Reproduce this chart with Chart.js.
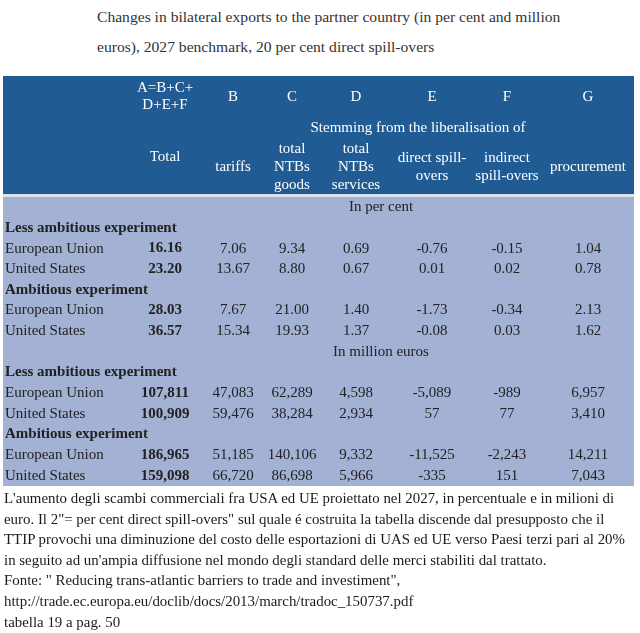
<!DOCTYPE html>
<html>
<head>
<meta charset="utf-8">
<script src="https://cdn.jsdelivr.net/npm/chart.js@4.4.1/dist/chart.umd.min.js"></script>
<style>
  body { margin: 0; background: #fff; width: 640px; height: 633px; overflow: hidden; position: relative; font-family: "Liberation Serif", "Times New Roman", serif; }
  #title { position: absolute; left: 97px; top: 2px; font-size: 15.6px; line-height: 30px; color: #333; white-space: nowrap; }
  #wrap { position: absolute; left: 0; top: 70px; width: 640px; height: 420px; }
  #notes { position: absolute; left: 4px; top: 488px; font-size: 14.9px; line-height: 20.6px; color: #1a1a1a; white-space: nowrap; }
</style>
</head>
<body>
<div id="title">Changes in bilateral exports to the partner country (in per cent and million<br>euros), 2027 benchmark, 20 per cent direct spill-overs</div>
<div id="wrap"><canvas id="table" width="640" height="420"></canvas></div>
<div id="notes">L'aumento degli scambi commerciali fra USA ed UE proiettato nel 2027, in percentuale e in milioni di<br>euro. Il 2"= per cent direct spill-overs" sul quale é costruita la tabella discende dal presupposto che il<br>TTIP provochi una diminuzione del costo delle esportazioni di UAS ed UE verso Paesi terzi pari al 20%<br>in seguito ad un'ampia diffusione nel mondo degli standard delle merci stabiliti dal trattato.<br>Fonte: " Reducing trans-atlantic barriers to trade and investiment",<br>http://trade.ec.europa.eu/doclib/docs/2013/march/tradoc_150737.pdf<br>tabella 19 a pag. 50</div>
<script>
// table content
const columnLetters = ["A=B+C+\nD+E+F", "B", "C", "D", "E", "F", "G"];
const columnNames = ["Total", "tariffs", "total\nNTBs\ngoods", "total\nNTBs\nservices", "direct spill-\novers", "indirect\nspill-overs", "procurement"];
const spanTitle = "Stemming from the liberalisation of";
const rowLabels = ["In per cent", "Less ambitious experiment", "European Union", "United States",
  "Ambitious experiment", "European Union", "United States",
  "In million euros", "Less ambitious experiment", "European Union", "United States",
  "Ambitious experiment", "European Union", "United States"];
const rowKinds = ["unit", "group", "pct", "pct", "group", "pct", "pct",
  "unit", "group", "mln", "mln", "group", "mln", "mln"];

const pctLessEU = [16.16, 7.06, 9.34, 0.69, -0.76, -0.15, 1.04];
const pctLessUS = [23.20, 13.67, 8.80, 0.67, 0.01, 0.02, 0.78];
const pctAmbEU = [28.03, 7.67, 21.00, 1.40, -1.73, -0.34, 2.13];
const pctAmbUS = [36.57, 15.34, 19.93, 1.37, -0.08, 0.03, 1.62];
const mlnLessEU = [107811, 47083, 62289, 4598, -5089, -989, 6957];
const mlnLessUS = [100909, 59476, 38284, 2934, 57, 77, 3410];
const mlnAmbEU = [186965, 51185, 140106, 9332, -11525, -2243, 14211];
const mlnAmbUS = [159098, 66720, 86698, 5966, -335, 151, 7043];

const rowValues = [null, null, pctLessEU, pctLessUS, null, pctAmbEU, pctAmbUS,
  null, null, mlnLessEU, mlnLessUS, null, mlnAmbEU, mlnAmbUS];

// layout (x in table units from the left edge)
const tableWidth = 631;
const colCenters = [162, 230, 289, 353, 429, 504, 585];
const unitCenter = 378;
const spanCenter = 415;
const headerColor = "#215b93";
const bodyColor = "#a3b1d4";
const font = '"Liberation Serif", "Times New Roman", serif';

const fmt = (kind, v) => kind === "pct" ? v.toFixed(2) : v.toLocaleString("en-US");

const drawLines = (ctx, text, x, yMid, lh) => {
  const lines = text.split("\n");
  lines.forEach((line, i) => {
    ctx.fillText(line, x, yMid + (i - (lines.length - 1) / 2) * lh);
  });
};

const tablePlugin = {
  id: "tableText",
  beforeDatasetsDraw(chart) {
    const { ctx, chartArea, scales } = chart;
    const top = chartArea.top;
    ctx.save();
    ctx.fillStyle = headerColor;
    ctx.fillRect(chartArea.left, top - 121, chartArea.right - chartArea.left, 118);
    ctx.fillStyle = "#dbe3ef";
    ctx.fillRect(chartArea.left, top - 3, chartArea.right - chartArea.left, 3);

    // header texts
    ctx.fillStyle = "#ffffff";
    ctx.textAlign = "center";
    ctx.textBaseline = "middle";
    ctx.font = "15px " + font;
    columnLetters.forEach((t, i) => {
      drawLines(ctx, t, scales.x.getPixelForValue(colCenters[i]), top - 100, 17);
    });
    ctx.fillText(spanTitle, scales.x.getPixelForValue(spanCenter), top - 69);
    columnNames.forEach((t, i) => {
      const mid = i === 0 ? top - 40 : top - 30;
      drawLines(ctx, t, scales.x.getPixelForValue(colCenters[i]), mid, 18);
    });
    ctx.restore();
  },
  afterDatasetsDraw(chart) {
    const { ctx, scales } = chart;
    ctx.save();
    ctx.textBaseline = "middle";
    ctx.fillStyle = "#222";
    rowLabels.forEach((label, r) => {
      const y = scales.y.getPixelForValue(r);
      const kind = rowKinds[r];
      if (kind === "unit") {
        ctx.font = "15px " + font;
        ctx.textAlign = "center";
        ctx.fillText(label, scales.x.getPixelForValue(unitCenter), y);
        return;
      }
      ctx.textAlign = "left";
      ctx.font = (kind === "group" ? "bold " : "") + "15px " + font;
      ctx.fillText(label, scales.x.getPixelForValue(2), y);
      const vals = rowValues[r];
      if (!vals) return;
      ctx.textAlign = "center";
      vals.forEach((v, c) => {
        ctx.font = (c === 0 ? "bold " : "") + "15px " + font;
        ctx.fillText(fmt(kind, v), scales.x.getPixelForValue(colCenters[c]), y);
      });
    });
    ctx.restore();
  }
};

new Chart(document.getElementById("table"), {
  type: "bar",
  data: {
    labels: rowLabels,
    datasets: [{
      data: rowLabels.map(() => [0, tableWidth]),
      backgroundColor: bodyColor,
      borderWidth: 0,
      barPercentage: 1,
      categoryPercentage: 1
    }]
  },
  options: {
    indexAxis: "y",
    responsive: false,
    animation: false,
    layout: { padding: { top: 127, bottom: 4, left: 3, right: 6 } },
    plugins: { legend: { display: false }, tooltip: { enabled: false }, title: { display: false } },
    scales: {
      x: { type: "linear", min: 0, max: tableWidth, display: false },
      y: { type: "category", display: false }
    }
  },
  plugins: [tablePlugin]
});
</script>
</body>
</html>
